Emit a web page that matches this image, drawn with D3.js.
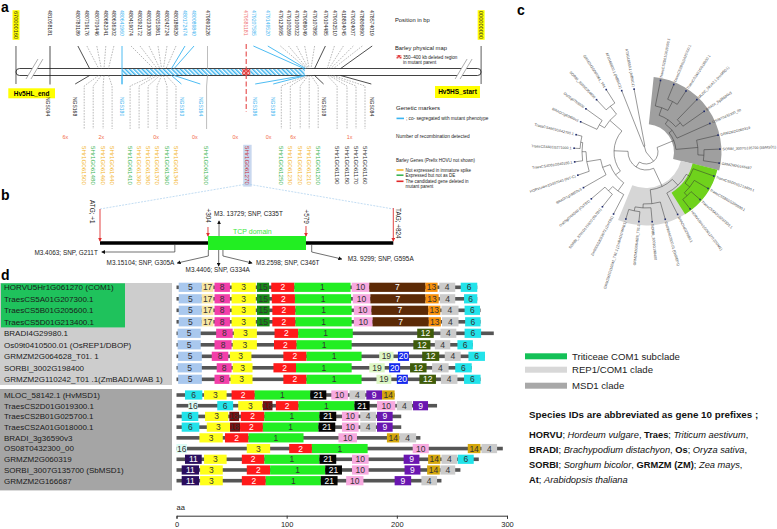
<!DOCTYPE html>
<html><head><meta charset="utf-8">
<script src="https://cdn.jsdelivr.net/npm/d3@7/dist/d3.min.js"></script>
<style>
html,body{margin:0;padding:0;background:#fff;}
svg{display:block;font-family:"Liberation Sans",Arial,Helvetica,sans-serif;}
</style></head><body>
<svg id="fig" width="777" height="529"></svg>
<script>
// ======================= DATA =======================
// ---- panel a : physical map (map columns are schematic order positions) ----
const mapEndPositions = ["670000160", "000000000"];
const mapEndNames = ["Hv5HL_end", "Hv5HS_start"];
const posLabels = ["481058181","480783189","480719176","480703446","480682341","480636302","480641960","480419074","480292172","480233008","480251861","480242724","480189829","480172474","480089840","479893226","479581181","479207585","479149520","479123695","479100269","479100022","479089049","479107895","479104485","479032510","418834045","479024007","478806890","478574019"];
const posColumn = [0,3.1,4.1,5.2,6.2,7.1,8,9,10,11,12,13,14,15,16,17.5,21.8,22.6,24.2,25.6,26.5,27.4,28.3,29.4,30.6,31.6,32.6,33.7,34.7,35.8];
const posMapColumn = [0,4.4,5.4,5.7,6.0,6.5,8,11.5,11.9,12.2,12.4,12.6,12.9,13.5,13.8,17.5,21.8,28.2,28.4,28.5,28.6,28.7,28.8,29.0,29.4,30.8,31.0,31.2,31.5,32.3];
const posType = ["flank","flank","inner","inner","inner","inner","coseg","inner","inner","inner","inner","inner","inner","coseg","coseg","mid","deleted","coseg","coseg","inner","inner","inner","inner","inner","flank","inner","inner","inner","inner","flank"];
const markerNames = ["NGS094","NGS168","NGS180","NGS163","NGS164","NGS186","NGS189","NGS108","NGS084"];
const markerColumn = [-0.2,2.8,8,14.6,16.7,22.8,24.8,30.4,35.7];
const markerMapColumn = [0,4.4,8,13.5,13.8,28.2,28.4,29.4,32.3];
const markerCoseg = [false,false,true,true,true,true,true,false,false];
const recombCounts = ["6x","2x","0x","0x","0x","0x","6x","1x"];
const recombColumn = [1.7,5.7,11.8,16.1,20.6,24.3,27,33.3];
const geneNames = ["5Hr1G061500","5Hr1G061480","5Hr1G061460","5Hr1G061440","5Hr1G061410","5Hr1G061390","5Hr1G061380","5Hr1G061370","5Hr1G061360","5Hr1G061340","5Hr1G061300","5Hr1G061270","5Hr1G061250","5Hr1G061230","5Hr1G061220","5Hr1G061210","5Hr1G061200","5Hr1G061190","5Hr1G061180","5Hr1G061170","5Hr1G061160"];
const geneColumn = [3.8,4.8,5.9,6.9,8.9,9.9,10.9,11.9,13,14,17.4,21.9,25.7,26.7,27.8,28.8,29.8,31.9,33,34,35];
const geneMapColumn = [5.4,5.7,6.0,6.5,11.5,11.9,12.2,12.4,12.6,12.9,17.5,21.8,28.5,28.6,28.7,28.8,29.0,30.8,31.0,31.2,31.5];
const geneStatus = ["notExpressed","expressed","notExpressed","notExpressed","expressed","notExpressed","notExpressed","notExpressed","expressed","notExpressed","expressed","deleted","expressed","notExpressed","notExpressed","notExpressed","expressed","other","other","other","other"];

// ---- panel b : COM1 gene model (bp) ----
const geneLength = 824;
const tcpDomain = [304, 579];
const siteLabels = ["ATG; +1", "+304", "+579", "TAG; +824"];
const sitePositions = [1, 304, 579, 824];
const snpLabels = ["M3.4063; SNP, G211T","M3.15104; SNP, G305A","M3.4406; SNP, G334A","M3. 13729; SNP, C335T","M3.2598; SNP, C346T","M3. 9299; SNP, G595A"];
const snpPositions = [211, 305, 334, 335, 346, 595];

// ---- panel d : protein domain architecture (aa) ----
const proteins = ["HORVU5Hr1G061270 (COM1)","TraesCS5A01G207300.1","TraesCS5B01G205600.1","TraesCS5D01G213400.1","BRADI4G29980.1","Os09t0410500.01 (OsREP1/DBOP)","GRMZM2G064628_T01. 1","SORBI_3002G198400","GRMZM2G110242_T01 .1(ZmBAD1/WAB 1)","MLOC_58142.1 (HvMSD1)","TraesCS2D01G019300.1","TraesCS2B01G025700.1","TraesCS2A01G018000.1","BRADI_3g36590v3","OS08T0432300_00","GRMZM2G060319","SORBI_3007G135700 (SbMSD1)","GRMZM2G166687"];
const proteinClade = ["COM1","COM1","COM1","COM1","REP1","REP1","REP1","REP1","REP1","MSD1","MSD1","MSD1","MSD1","MSD1","MSD1","MSD1","MSD1","MSD1"];
const proteinLengths = [273,273,276,276,288,269,280,268,276,198,236.5,204,204,221.4,296.2,274.4,257.7,240.5];
const proteinDomains = [
  [[5,2,23],[17,23,33.5],[8,34.5,48.5],[3,50,72],[15,73,84],[2,86,107],[1,107,158],[10,159,175],[7,175,226],[13,226,237],[4,238.5,253],[6,258,273]],
  [[5,2,23],[17,23,33.5],[8,34.5,48.5],[3,50,72],[15,73,84.5],[2,86.5,107.5],[1,107.5,158.5],[10,160,176],[7,176,226],[13,226,238],[4,239,253],[6,261,273]],
  [[5,2,23],[17,23,33.5],[8,34.5,48.5],[3,50,72],[15,73,84.5],[2,87,108],[1,108,159],[10,161,177],[7,177,228.5],[13,228.5,239.5],[4,240.5,256],[6,261.5,275.5]],
  [[5,2,23],[17,23,33.5],[8,34.5,48.5],[3,50,72],[15,73,84.5],[2,87,108],[1,108,159],[10,161,178],[7,178,229],[13,229,240],[4,241,256],[6,262,276]],
  [[5,1,22],[8,36,51],[3,52,73],[2,89,110.5],[1,110.5,160],[12,218.5,233.5],[4,239.5,254],[6,261.5,276.5]],
  [[5,1,22],[8,34.5,50],[3,51,73],[2,88.5,109],[1,109,159],[12,215,230.5],[4,234.5,248.5],[6,255,269]],
  [[5,1.5,23],[8,32,47],[3,48.5,68],[2,97,118],[1,118,168],[19,184,197],[20,201,211],[12,223,238.5],[4,243.5,258],[6,265,280]],
  [[5,1,23],[8,36.5,50],[3,51,69],[2,88,108.5],[1,108.5,159],[19,175,189],[20,193,203],[12,212,227],[4,232,247],[6,253,268]],
  [[5,1.5,23],[8,34.5,48],[3,49,69],[2,97,118],[1,118,168],[19,181.5,195],[20,200,210],[12,220.5,235.5],[4,240,255],[6,261,276]],
  [[6,7.7,23.4],[3,25,45.5],[2,50,71],[1,71,121.4],[21,121.4,136],[10,140.5,155.6],[4,157,171.4],[9,172.3,186.6],[14,186.6,198]],
  [[16,10.7,19.3],[6,37,51.4],[3,56,78],[18,78.4,87.1],[2,90.2,110.7],[1,110.7,161.6],[21,161.6,175.3],[10,182,198.6],[4,200,213.8],[9,214.7,228.3]],
  [[6,4.7,19.8],[3,25.9,47],[18,48,56.8],[2,58.4,79.8],[1,79.8,129.8],[21,129.8,145],[10,150.2,165.3],[4,166.8,181],[9,182,196.2]],
  [[6,4.7,20.7],[3,27.5,48.6],[18,48.6,57.7],[2,57.7,78.4],[1,78.4,128.9],[21,128.9,144.1],[10,150.2,165.3],[4,166.8,181],[9,182,196.2]],
  [[3,20.8,42],[2,44,65.3],[1,65.3,115.3],[10,147,163.8],[14,191,202.3],[4,202.3,217.5]],
  [[16,0,9.5],[3,63.8,85],[2,102.3,122.9],[1,122.9,173.5],[10,214.4,229],[14,264.4,275.9],[4,276.8,291]],
  [[11,7.7,22.9],[3,25,45.5],[2,59.3,79.8],[1,79.8,129.8],[21,129.8,145],[10,159.3,174.4],[9,206.2,220.5],[14,228.4,239.5],[4,240.5,254.8],[6,255.3,269.8]],
  [[11,4.7,20.5],[3,21.4,42],[2,63.8,85],[1,85,135],[21,135,150.2],[10,159.3,174.4],[9,207,221.4],[14,227.5,239],[4,239.5,253]],
  [[11,4.7,20.5],[3,21.4,42],[2,59.3,81],[1,81,131],[21,131,146.2],[10,154,169.7],[9,198,213],[4,222.3,236.5]]
];
const aaTicks = [0, 100, 200, 300];

// ---- panel c : phylogenetic tree (branch lengths, arbitrary units) ----
const L = (name, len) => ({name, len});
const N = (len, ...children) => ({len, children});
const Cl = (clade, node) => (node.clade = clade, node);
const treeData = N(0,
  N(12,
    Cl("MSD1", N(18,
      N(4,
        N(5,
          N(8, L("TraesCS2D01G019300.1",26), N(10, L("TraesCS2B01G025700.1",16), L("TraesCS2A01G018000.1",16))),
          N(6, L("MLOC_58142.1 (HvMSD1)",28), L("BRADI_3g36590v3",26))),
        L("OS08T0432300_00",36)),
      N(22, L("GRMZM2G060319",22), N(6, L("SORBI_3007G135700 (SbMSD1)",16), L("GRMZM2G166687",16))))),
    N(6,
      Cl("REP1", N(20,
        N(8,
          Cl("COM1", N(4, L("TraesCS5D01G213400.1",22), N(6, L("TraesCS5B01G205600.1",16), N(4, L("TraesCS5A01G207300.1",12), L("HORVU5Hr1G061270 (COM1)",12))))),
          L("BRADI4G29980.1",24)),
        N(14, L("Os09t0410500.01 (OsREP1)",18), N(4, L("SORBI_3002G198400",14), N(4, L("GRMZM2G064628_T01.1",10), L("GRMZM2G110242_T01.1 (ZmBAD1/WAB1)",10)))))),
      N(14,
        N(6,
          N(10, L("Zm00001d033673 (ZmTB1)",22), N(6, L("SORBI_3001G121600 (SbTB1)",16), L("Os03g0706500 (OsTB1)",18))),
          N(8, L("BRADI1g18650v3",26), N(14, L("HORVU4Hr1G007040 (INT-C)",12), N(4, L("TraesCS4D01G040100.1",8), N(2, L("TraesCS4A01G271000.1",6), L("TraesCS4B01G042700.1",6)))))),
        N(16,
          N(6, L("BRADI2g60400v3",18), L("Os01g0755500",20)),
          N(10, L("SORBI_3003G354800",14), L("GRMZM2G089361_T01",16)))))),
  N(6, L("AT1G68800.1 (AtBRC2)",60), L("AT3G18550.1 (AtBRC1)",58)));
const cladeLegend = [["COM1","Triticeae COM1 subclade"],["REP1","REP1/COM1 clade"],["MSD1","MSD1 clade"]];
const speciesAbbrev = [["HORVU","Hordeum vulgare"],["Traes","Triticum aestivum"],["BRADI","Brachypodium distachyon"],["Os","Oryza sativa"],["SORBI","Sorghum bicolor"],["GRMZM (ZM)","Zea mays"],["At","Arabidopsis thaliana"]];
const speciesLines = [[0,1],[2,3],[4,5],[6]];

// ======================= DRAWING =======================
const svg = d3.select("#fig");
const defs = svg.append("defs");
function pattern(id, col, rot, cross){
  const p = defs.append("pattern").attr("id",id).attr("patternUnits","userSpaceOnUse")
    .attr("width",3).attr("height",3).attr("patternTransform",`rotate(${rot})`);
  p.append("rect").attr("width",3).attr("height",3).attr("fill","#fff");
  p.append("rect").attr("width",1.5).attr("height",3).attr("fill",col);
  if (cross) p.append("rect").attr("width",3).attr("height",1.2).attr("fill",col);
}
pattern("hb","#3fb5ef",-45,false);
pattern("hr","#e23a3a",45,true);
function arrow(id,col){
  defs.append("marker").attr("id",id).attr("viewBox","0 0 6 6").attr("refX",5).attr("refY",3)
    .attr("markerWidth",4).attr("markerHeight",4).attr("markerUnits","userSpaceOnUse").attr("orient","auto")
    .append("path").attr("d","M0,0L6,3L0,6Z").attr("fill",col);
}
arrow("arK","#111"); arrow("arR","#e03030");

function panelLabel(t,x,y){ svg.append("text").attr("x",x).attr("y",y).attr("font-size",14).attr("font-weight","bold").attr("fill","#000").text(t); }
panelLabel("a",1,12); panelLabel("b",1,200); panelLabel("d",1,280); panelLabel("c",517,15);

function vtext(g, x, y, txt, size, col, weight){
  return g.append("text").attr("transform",`translate(${x},${y}) rotate(90)`).attr("dy","0.35em")
    .attr("font-size",size).attr("fill",col).attr("font-weight",weight||"normal").text(txt);
}
function bgBehind(g, node, col, pad){
  const b = node.node().getBBox();
  const tr = node.attr("transform");
  g.insert("rect", () => node.node()).attr("transform",tr)
    .attr("x",b.x-pad).attr("y",b.y-pad*0.6).attr("width",b.width+pad*2).attr("height",b.height+pad*1.2).attr("fill",col);
}

// ---------- panel a ----------
const A = svg.append("g");
const xa = d3.scaleLinear().domain([0,36]).range([50,374]);
const chrY0 = 68.5, chrY1 = 75.5;
const chrCols = [-3.78, 47.9];
const lineStyle = {flank:["#222",null,0.8], inner:["#8c8c8c","1.6,1.2",0.6], mid:["#bdbdbd",null,1], coseg:["#3ab4f0",null,0.9], deleted:["#e54848","5,2.5",1.1]};
const labColor = {flank:"#222", inner:"#222", mid:"#222", coseg:"#3ab4f0", deleted:"#ef7070"};

A.append("rect").attr("x",xa(chrCols[0])).attr("y",chrY0).attr("width",xa(chrCols[1])-xa(chrCols[0])).attr("height",chrY1-chrY0)
  .attr("rx",3.5).attr("fill","#fff").attr("stroke","#111").attr("stroke-width",0.8);
const hatch0 = posMapColumn[posType.indexOf("coseg")], hatch1 = 28.3;
A.append("rect").attr("x",xa(hatch0)).attr("y",chrY0+0.5).attr("width",xa(hatch1)-xa(hatch0)).attr("height",chrY1-chrY0-1).attr("fill","url(#hb)");
const delCol = posMapColumn[posType.indexOf("deleted")];
A.append("rect").attr("x",xa(delCol-0.45)).attr("y",chrY0+0.4).attr("width",xa(0.9)-xa(0)).attr("height",chrY1-chrY0-0.8).attr("fill","url(#hr)");
[[xa(chrCols[0])+10],[xa(chrCols[1])-26]].forEach(([bx])=>{
  A.append("path").attr("d",`M${bx},79L${bx+12},59L${bx+17},59L${bx+5},79Z`).attr("fill","#fff");
  A.append("path").attr("d",`M${bx},79L${bx+12},59M${bx+5},79L${bx+17},59`).attr("stroke","#999").attr("stroke-width",0.8).attr("fill","none");
});
chrCols.forEach((c,i)=>{
  const x = xa(c);
  A.append("line").attr("x1",x).attr("x2",x).attr("y1",46).attr("y2",84).attr("stroke","#333").attr("stroke-width",0.8);
  const t = vtext(A, x, 11, mapEndPositions[i], 5.6, "#222");
  bgBehind(A, t, "#ffff00", 0.8);
});
[[8.3,88.3,46.7,10, mapEndNames[0]],[435,86,45,12, mapEndNames[1]]].forEach(([x,y,w,h,t])=>{
  A.append("rect").attr("x",x).attr("y",y).attr("width",w).attr("height",h).attr("fill","#ffff00");
  A.append("text").attr("x",x+w/2).attr("y",y+h/2).attr("dy","0.35em").attr("text-anchor","middle")
    .attr("font-size",6.5).attr("font-weight","bold").attr("fill","#000").text(t);
});
posLabels.forEach((lab,i)=>{
  const t = posType[i], st = lineStyle[t];
  const x0 = xa(posColumn[i]), x1 = xa(posMapColumn[i]);
  let d = `M${x0},46L${x1},${chrY0}`;
  if (t==="deleted") d = `M${x0},44V112`;
  else if (posColumn[i]===posMapColumn[i] && t!=="mid") d = `M${x0},46V${chrY1+9}`;
  A.append("path").attr("d",d).attr("fill","none").attr("stroke",st[0]).attr("stroke-width",st[2]).attr("stroke-dasharray",st[1]);
  vtext(A, x0, 10, lab, 5.2, labColor[t]);
});
markerNames.forEach((m,i)=>{
  const x0 = xa(markerMapColumn[i]), x1 = xa(markerColumn[i]);
  const st = markerCoseg[i] ? lineStyle.coseg : lineStyle.flank;
  if (i>0) A.append("path").attr("d",`M${x0},${chrY1}L${x1},84`).attr("fill","none").attr("stroke",st[0]).attr("stroke-width",st[2]);
  vtext(A, x1, 97, m, 5, markerCoseg[i] ? "#3ab4f0" : "#222");
});
const geneColor = {notExpressed:"#f3b52a", expressed:"#3cb553", deleted:"#c8323a", other:"#333"};
geneNames.forEach((g,i)=>{
  const x0 = xa(geneMapColumn[i]), x1 = xa(geneColumn[i]);
  const solid = geneMapColumn[i]===posMapColumn[posType.indexOf("mid")];
  if (geneStatus[i]!=="deleted"){
    A.append("path").attr("d",`M${x0},${chrY1}L${x1},86V129`).attr("fill","none")
      .attr("stroke", solid ? "#bdbdbd" : "#8c8c8c")
      .attr("stroke-width", solid ? 1 : 0.6).attr("stroke-dasharray", solid ? null : "1.6,1.2");
  }
  const t = vtext(A, x1, 146, g, 6.2, geneColor[geneStatus[i]]);
  if (geneStatus[i]==="deleted") bgBehind(A, t, "#c9d8ef", 1.2);
});
recombCounts.forEach((r,i)=>{
  A.append("text").attr("x",xa(recombColumn[i])).attr("y",136.7).attr("dy","0.35em").attr("text-anchor","middle")
    .attr("font-size",5.4).attr("fill","#f26b4a").text(r);
});
const LA = A.append("g").attr("fill","#222");
LA.append("text").attr("x",395).attr("y",22).attr("font-size",5.8).text("Position in bp");
LA.append("text").attr("x",395).attr("y",50).attr("font-size",5.8).text("Barley physical map");
LA.append("rect").attr("x",396.5).attr("y",55).attr("width",5).attr("height",3.5).attr("fill","url(#hr)");
LA.append("text").attr("x",403).attr("y",58.5).attr("font-size",4.6).text("350–400 kb deleted region");
LA.append("text").attr("x",403).attr("y",63.6).attr("font-size",4.6).text("in mutant parent");
LA.append("text").attr("x",396).attr("y",109.6).attr("font-size",6).text("Genetic markers");
LA.append("line").attr("x1",396.5).attr("x2",404).attr("y1",118.4).attr("y2",118.4).attr("stroke","#3ab4f0").attr("stroke-width",1.6);
LA.append("text").attr("x",406).attr("y",120.2).attr("font-size",4.7).text("; co- segregated with mutant phenotype");
LA.append("text").attr("x",396).attr("y",138.4).attr("font-size",4.8).text("Number of recombination detected");
LA.append("text").attr("x",396).attr("y",162.3).attr("font-size",4.5).text("Barley Genes (Prefix HOVU not shown)");
[["#f3b52a","Not expressed in immature spike",170],["#3cb553","Expressed but not as DE",175.2],["#e02828","The candidated gene deleted in",181.3]].forEach(([c,t,y])=>{
  LA.append("line").attr("x1",396.5).attr("x2",403.5).attr("y1",y).attr("y2",y).attr("stroke",c).attr("stroke-width",1.6);
  LA.append("text").attr("x",405.5).attr("y",y+1.6).attr("font-size",4.5).text(t);
});
LA.append("text").attr("x",405.5).attr("y",188.3).attr("font-size",4.5).text("mutant parent");

// ---------- panel b ----------
const B = svg.append("g");
const xb = d3.scaleLinear().domain([1, geneLength]).range([100, 393.3]);
const geneY = 243;
const candX = xa(geneColumn[geneStatus.indexOf("deleted")]);
[1, geneLength].forEach(p=>{
  B.append("line").attr("x1",candX).attr("y1",184).attr("x2",xb(p)).attr("y2",209)
   .attr("stroke","#a9cfee").attr("stroke-width",0.7).attr("stroke-dasharray","2,1.2");
});
B.append("line").attr("x1",xb(1)).attr("x2",xb(geneLength)).attr("y1",geneY).attr("y2",geneY).attr("stroke","#000").attr("stroke-width",3.5);
B.append("rect").attr("x",xb(tcpDomain[0])).attr("y",236).attr("width",xb(tcpDomain[1])-xb(tcpDomain[0])).attr("height",14).attr("fill","#22ee22");
B.append("text").attr("x",xb(tcpDomain[0])+25).attr("y",234).attr("font-size",7).attr("fill","#3de83d").text("TCP domain");
const snpLayout = [
  {kind:"side", y:252, dx:-73, ty:254.5, anchor:"end", tdx:-4},
  {kind:"diag", y:256, dx:-31, dy:7, ty:265, anchor:"end", tdx:-3},
  {kind:"down", y:266, ty:272.3, anchor:"middle", tdx:-1},
  {kind:"up",   y:221, ty:216, anchor:"start", tdx:-5},
  {kind:"diag", y:256, dx:29, dy:7, ty:265, anchor:"start", tdx:4},
  {kind:"diag", y:252, dx:30, dy:7, ty:261, anchor:"start", tdx:6}
];
snpPositions.forEach((p,i)=>{
  const x = xb(p), l = snpLayout[i];
  let d, tx;
  const y0 = (p>=tcpDomain[0] && p<=tcpDomain[1]) ? (l.kind==="up"?236:250) : geneY+1.7;
  if (l.kind==="side"){ d = `M${x},${y0}V${l.y}H${x+l.dx}`; tx = x+l.dx+l.tdx; }
  else if (l.kind==="diag"){ d = `M${x},${y0}V${l.y}L${x+l.dx},${l.y+l.dy}`; tx = x+l.dx+l.tdx; }
  else { d = `M${x},${y0}V${l.y}`; tx = x+l.tdx; }
  B.append("path").attr("d",d).attr("fill","none").attr("stroke","#333").attr("stroke-width",0.7).attr("marker-end","url(#arK)");
  B.append("text").attr("x",tx).attr("y",l.ty).attr("text-anchor",l.anchor).attr("font-size",6.4).attr("fill","#222").text(snpLabels[i]);
});
const siteLayout = [{y1:209,y2:241,tx:-7.3,ty:200},{y1:227,y2:236,tx:0,ty:208.5},{y1:226,y2:236,tx:0,ty:209.5},{y1:208,y2:241,tx:4.6,ty:208}];
sitePositions.forEach((p,i)=>{
  const x = xb(p), l = siteLayout[i];
  B.append("line").attr("x1",x).attr("x2",x).attr("y1",l.y1).attr("y2",l.y2).attr("stroke","#e03030").attr("stroke-width",0.9).attr("marker-end","url(#arR)");
  vtext(B, x+l.tx, l.ty, siteLabels[i], 6.4, "#222");
});

// ---------- panel d ----------
const D = svg.append("g");
const xd = d3.scaleLinear().domain([0,300]).range([176.5,507]);
const g1 = proteins.map((p,i)=>i).filter(i=>proteinClade[i]!=="MSD1");
const g2 = proteins.map((p,i)=>i).filter(i=>proteinClade[i]==="MSD1");
const yG1 = d3.scalePoint().domain(g1).range([287.3,379.3]);
const yG2 = d3.scalePoint().domain(g2).range([395,480.7]);
const rowY = i => proteinClade[i]==="MSD1" ? yG2(i) : yG1(i);
D.append("rect").attr("x",0).attr("y",rowY(g1[0])-4.3).attr("width",172).attr("height",rowY(g1[g1.length-1])-rowY(g1[0])+10).attr("fill","#cdcdcd");
const com = proteins.map((p,i)=>i).filter(i=>proteinClade[i]==="COM1");
D.append("rect").attr("x",1).attr("y",rowY(com[0])-4).attr("width",124).attr("height",rowY(com[com.length-1])-rowY(com[0])+9.6).attr("fill","#1fc25c");
D.append("rect").attr("x",0).attr("y",rowY(g2[0])-6).attr("width",172).attr("height",rowY(g2[g2.length-1])-rowY(g2[0])+15.7).attr("fill","#a5a5a5");
proteins.forEach((p,i)=>{
  D.append("text").attr("x",4).attr("y",rowY(i)).attr("dy","0.35em").attr("font-size",8).attr("fill","#1a1a1a").text(p);
});
const domColor = {1:"#22ee22",2:"#ff1a1a",3:"#ffff1a",4:"#cbcbcb",5:"#a9c8ee",6:"#22e3ea",7:"#5c2a06",8:"#f23fa9",9:"#6a16b0",10:"#f7a9df",11:"#2a0d5e",12:"#3f5c0a",13:"#f7900c",14:"#d5a70c",15:"#168c16",16:"#dcfbf5",17:"#f9e7a3",18:"#7a0c0c",19:"#dcf7c4",20:"#1428ee",21:"#050505"};
const whiteTxt = new Set([2,7,9,11,12,20,21]);
proteins.forEach((p,i)=>{
  const y = rowY(i);
  D.append("rect").attr("x",xd(0)).attr("y",y-1.8).attr("width",xd(proteinLengths[i])-xd(0)).attr("height",3.6).attr("fill","#555");
  const g = D.append("g");
  g.selectAll("rect").data(proteinDomains[i]).join("rect")
    .attr("x",d=>xd(d[1])).attr("width",d=>xd(d[2])-xd(d[1])).attr("y",y-4.6).attr("height",9.2).attr("fill",d=>domColor[d[0]]);
  g.selectAll("text").data(proteinDomains[i]).join("text")
    .attr("x",d=>(xd(d[1])+xd(d[2]))/2).attr("y",y).attr("dy","0.36em").attr("text-anchor","middle")
    .attr("font-size",8.5).attr("fill",d=>whiteTxt.has(d[0])?"#fff":"#333").text(d=>d[0]);
});
const ax = D.append("g").attr("transform","translate(0,515.7)").call(d3.axisBottom(xd).tickValues(aaTicks).tickSize(3).tickSizeOuter(3));
ax.selectAll("text").attr("font-size",7.5).attr("fill","#222").attr("font-family",'"Liberation Sans",Arial,sans-serif');
ax.selectAll("path,line").attr("stroke","#333");
D.append("text").attr("x",176.5).attr("y",510).attr("font-size",7.5).attr("fill","#222").text("aa");

// ---------- panel c ----------
const C = svg.append("g");
const cx = 646, cy = 152;
const root = d3.hierarchy(treeData);
root.eachBefore(n=>{ n.cum = (n.parent ? n.parent.cum : 0) + (n.data.len||0); });
const leaves = root.leaves();
const nL = leaves.length, step = 360/nL;
d3.cluster().size([360*(nL-1)/nL, 1]).separation(()=>1)(root);
const rScale = d3.scaleLinear().domain([0, d3.max(leaves, d=>d.cum)]).range([0, 74]);
root.each(n=>{ n.ang = n.x + 6; n.r = rScale(n.cum); });
const rad = a => a*Math.PI/180;
const pt = (a,r) => [cx + r*Math.sin(rad(a)), cy - r*Math.cos(rad(a))];
const cladeFill = {MSD1:"#9f9f9f", REP1:"#d6d6d6", COM1:"#6fd21c"};
["MSD1","REP1","COM1"].forEach(cl=>{
  const n = root.descendants().find(d=>d.data.clade===cl);
  const lv = n.leaves();
  const a0 = d3.min(lv,d=>d.ang)-step/2, a1 = d3.max(lv,d=>d.ang)+step/2;
  const rOut = d3.max(lv,d=>d.r)+1.5;
  C.append("path").attr("transform",`translate(${cx},${cy})`)
    .attr("d", d3.arc()({innerRadius:n.r-2, outerRadius:rOut, startAngle:rad(a0), endAngle:rad(a1)}))
    .attr("fill", cladeFill[cl]);
});
const lg = C.append("g").attr("fill","none").attr("stroke","#333").attr("stroke-width",0.5);
root.descendants().forEach(n=>{
  if (n.parent){
    const [x1,y1] = pt(n.ang, n.parent.r), [x2,y2] = pt(n.ang, n.r);
    lg.append("path").attr("d",`M${x1},${y1}L${x2},${y2}`);
  }
  if (n.children && n.r>0){
    const a0 = d3.min(n.children,d=>d.ang), a1 = d3.max(n.children,d=>d.ang);
    const [x1,y1] = pt(a0,n.r), [x2,y2] = pt(a1,n.r);
    lg.append("path").attr("d",`M${x1},${y1}A${n.r},${n.r} 0 ${a1-a0>180?1:0} 1 ${x2},${y2}`);
  }
});
leaves.forEach(l=>{
  const [dx,dy] = pt(l.ang, l.r);
  C.append("rect").attr("x",dx-0.8).attr("y",dy-0.8).attr("width",1.6).attr("height",1.6).attr("fill","#1e2a6e");
  const [tx,ty] = pt(l.ang, l.r+2.5);
  const flip = l.ang > 180;
  C.append("text").attr("transform",`translate(${tx},${ty}) rotate(${flip ? l.ang+90 : l.ang-90})`)
    .attr("text-anchor", flip ? "end" : "start").attr("dy","0.35em").attr("font-size",3.6).attr("fill","#444").text(l.data.name);
});
const legendFill = {COM1:"#14c157", REP1:"#d8d8d8", MSD1:"#a8a8a8"};
cladeLegend.forEach(([k,t],i)=>{
  const y = [353.3,366.7,382.7][i];
  C.append("rect").attr("x",525).attr("y",y).attr("width",42).attr("height",6).attr("fill",legendFill[k]);
  C.append("text").attr("x",572).attr("y",y+6.2).attr("font-size",9.6).attr("fill","#222").text(t);
});
C.append("text").attr("x",529).attr("y",417.5).attr("font-size",9.8).attr("font-weight","bold").attr("fill","#111").text("Species IDs are abbreviated as gene 10 prefixes ;");
speciesLines.forEach((ln,j)=>{
  const t = C.append("text").attr("x",529).attr("y",437.8 + j*14.9).attr("font-size",9.3).attr("fill","#111");
  ln.forEach((k,m)=>{
    const [ab,sp] = speciesAbbrev[k];
    t.append("tspan").attr("font-weight","bold").text(ab);
    t.append("tspan").text("; ");
    t.append("tspan").attr("font-style","italic").text(sp);
    if (k < speciesAbbrev.length-1) t.append("tspan").text(m===ln.length-1 ? "," : ", ");
  });
});
</script>
</body></html>
